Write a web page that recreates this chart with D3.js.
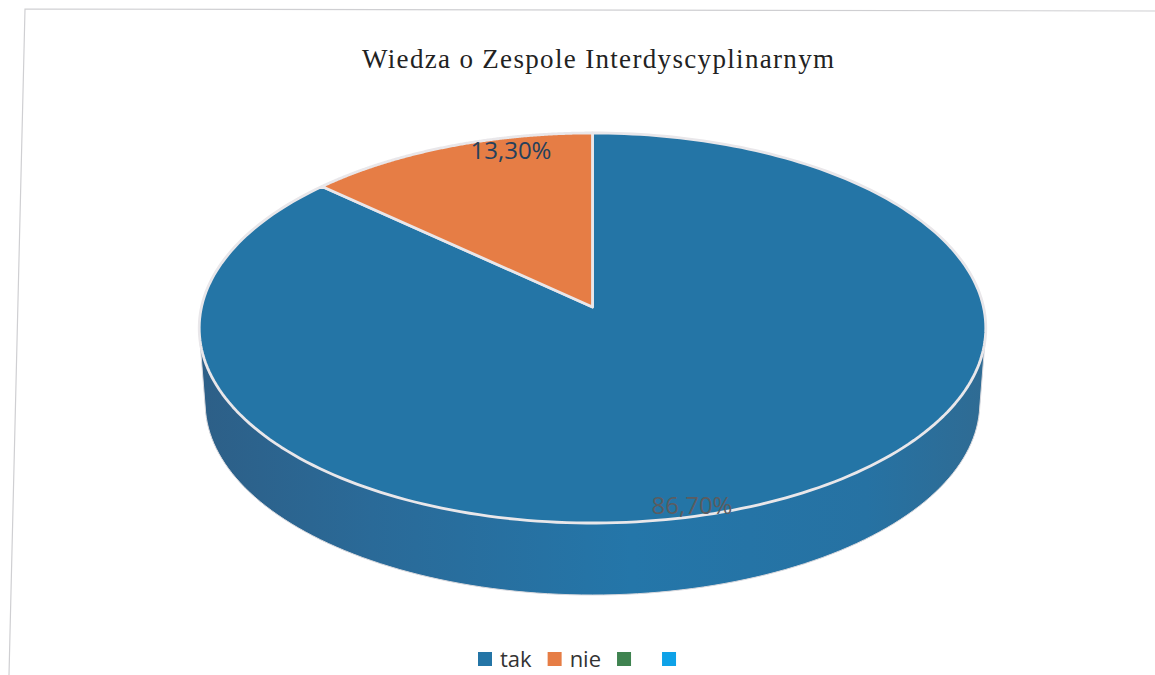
<!DOCTYPE html>
<html>
<head>
    <meta http-equiv="Content-Type" content="text/html;charset=utf8" />
    <title>Wiedza o Zespole Interdyscyplinarnym</title>
    <script src="https://d3js.org/d3.v7.min.js"></script>
    <style>
        html, body { margin: 0; padding: 0; background: #fff; overflow: hidden; }
    </style>
</head>
<body>
<div id="chart"></div>
<script>
    var titleText = "Wiedza o Zespole Interdyscyplinarnym";
    var categories = ["tak", "nie", "", ""];
    var values = [86.7, 13.3, 0, 0];
    var valueLabels = ["86,70%", "13,30%", "", ""];
    var colors = ["#2475a6", "#e67d45", "#3f8350", "#0ea2e8"];

    var width = 1155, height = 675;
    var svg = d3.select("#chart").append("svg").attr("width", width).attr("height", height);

    // scanned page frame
    svg.append("path").attr("d", "M9,675L25,9L1155,11")
        .attr("fill", "none").attr("stroke", "#cfcfd2").attr("stroke-width", 1.2);

    // perspective projection of the pie plane (u right, v away from viewer)
    var cx = 592.5, persp = 0.1077, rxTop = 391;
    var yCenter = 307, yGain = 159.7;
    function project(angle, scale, dy) {
        var u = Math.sin(angle) * scale, v = Math.cos(angle) * scale;
        var w = 1 + persp * v;
        return [cx + rxTop * u / w, (yCenter - yGain * v) / w + dy];
    }
    var line = d3.line().curve(d3.curveLinear);
    var tau = Math.PI * 2;
    function ringPts(a0, a1, scale, dy) {
        return d3.range(0, 241).map(function(i) {
            return project(a0 + (a1 - a0) * i / 240, scale, dy);
        });
    }

    // gradient for the side wall
    var defs = svg.append("defs");
    var grad = defs.append("linearGradient").attr("id", "wall")
        .attr("gradientUnits", "userSpaceOnUse")
        .attr("x1", 199).attr("x2", 985).attr("y1", 0).attr("y2", 0);
    [[0, "#2d5f87"], [0.22, "#2a6a98"], [0.55, "#2476a9"], [0.85, "#2672a3"], [1, "#2f6b93"]].forEach(function(s) {
        grad.append("stop").attr("offset", s[0]).attr("stop-color", s[1]);
    });

    // side wall: hull of the top rim and the bottom rim
    var wallPts = ringPts(0, tau, 1, 0).concat(ringPts(0, tau, 0.985, 75.6));
    svg.append("path").attr("d", line(d3.polygonHull(wallPts)) + "Z")
        .attr("fill", "url(#wall)").attr("stroke", "#d9d9de").attr("stroke-width", 1);

    // top face slices
    var pie = d3.pie().sort(null)(values);
    var slices = pie.filter(function(d) { return d.value > 0; });
    svg.selectAll("path.slice").data(slices).enter().append("path")
        .attr("class", "slice")
        .attr("d", function(d) {
            return line([project(0, 0, 0)].concat(ringPts(d.startAngle, d.endAngle, 1, 0))) + "Z";
        })
        .attr("fill", function(d) { return colors[d.index]; })
        .attr("stroke", "#e9e7ea").attr("stroke-width", 2.8).attr("stroke-linejoin", "round");

    // value labels
    var labelFont = "'Open Sans', sans-serif";
    svg.append("text").text(valueLabels[1]).attr("x", 511).attr("y", 159)
        .attr("text-anchor", "middle").attr("font-family", labelFont).attr("font-size", 24)
        .attr("fill", "#25405c");
    svg.append("text").text(valueLabels[0]).attr("x", 692).attr("y", 514)
        .attr("text-anchor", "middle").attr("font-family", labelFont).attr("font-size", 24)
        .attr("fill", "#5c5c60");

    // title
    svg.append("text").text(titleText).attr("x", 598).attr("y", 68)
        .attr("text-anchor", "middle").attr("font-family", "'Liberation Serif', serif")
        .attr("font-size", 27).attr("fill", "#222").attr("textLength", 472);

    // legend
    var legendX = 478;
    var legend = svg.append("g");
    categories.forEach(function(name, i) {
        legend.append("rect").attr("x", legendX).attr("y", 652).attr("width", 14).attr("height", 14)
            .attr("fill", colors[i]);
        var t = legend.append("text").text(name).attr("x", legendX + 22).attr("y", 667)
            .attr("font-family", labelFont).attr("font-size", 22).attr("fill", "#333");
        legendX += 38 + Math.max(t.node().getComputedTextLength(), 7);
    });
</script>
</body>
</html>
